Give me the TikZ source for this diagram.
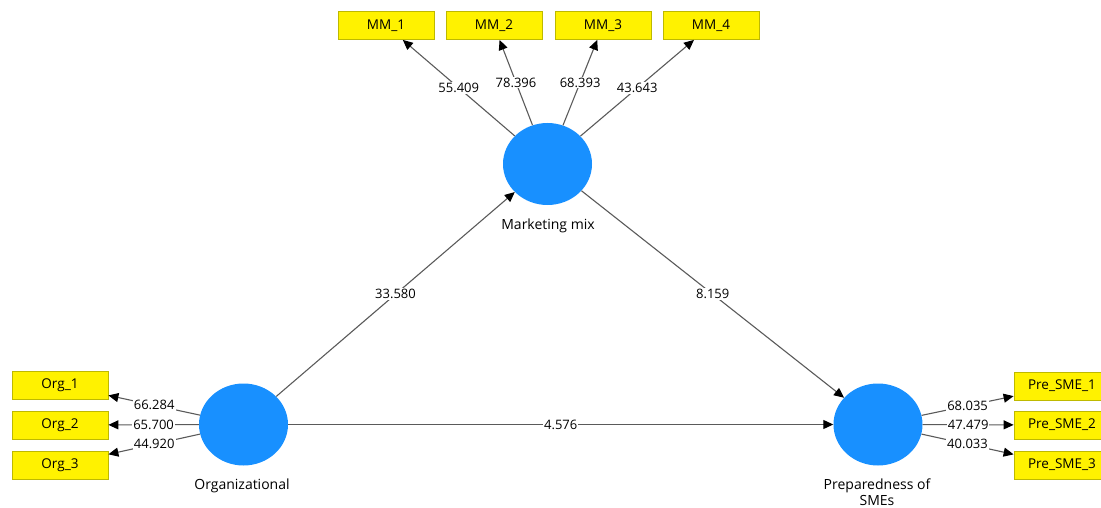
\documentclass[tikz,border=0pt]{standalone}
\usepackage{fontspec}
\setmainfont{Open Sans}
\usetikzlibrary{arrows.meta,shapes.geometric}
\definecolor{lvblue}{RGB}{24,144,255}
\definecolor{ybord}{RGB}{190,185,0}
\definecolor{lgray}{RGB}{90,90,90}
\begin{document}
\begin{tikzpicture}[x=1pt,y=-1pt,
  lv/.style={ellipse, fill=lvblue, minimum width=89pt, minimum height=82pt, inner sep=0pt},
  ind/.style={rectangle, fill=yellow, draw=ybord, line width=0.8pt, minimum width=96pt, minimum height=28pt, inner sep=0pt, font=\fontsize{13.5}{15}\selectfont},
  conn/.style={draw=lgray, line width=1.1pt, -{Triangle[length=10pt,width=9pt,color=black]}},
  lab/.style={fill=white, inner sep=1pt, font=\fontsize{13}{15}\selectfont},
  lvname/.style={font=\fontsize{14}{16}\selectfont, align=center, inner sep=1pt}
]
\useasboundingbox (0,0) rectangle (1101,508);
% latent variables
\node[lv] (mm) at (547.5,164) {};
\node[lv] (org) at (243.5,424.5) {};
\node[lv] (pre) at (878,424.5) {};
\node[lvname] (mmname) at (548,226) {Marketing mix};
\node[lvname] (orgname) at (242,486) {Organizational};
\node[lvname] (prename) at (877,492) {Preparedness of\\SMEs};
% indicators
\node[ind] (m1) at (386,25.5) {MM\_1};
\node[ind] (m2) at (494,25.5) {MM\_2};
\node[ind] (m3) at (603,25.5) {MM\_3};
\node[ind] (m4) at (711,25.5) {MM\_4};
\node[ind] (o1) at (60,385) {Org\_1};
\node[ind] (o2) at (60,425) {Org\_2};
\node[ind] (o3) at (60,465) {Org\_3};
\node[ind] (p1) at (1062,386) {Pre\_SME\_1};
\node[ind] (p2) at (1062,425) {Pre\_SME\_2};
\node[ind] (p3) at (1062,465) {Pre\_SME\_3};
% outer loadings
\draw[conn] (mm) -- node[lab,pos=0.5] {55.409} (m1);
\draw[conn] (mm) -- node[lab,pos=0.5] {78.396} (m2);
\draw[conn] (mm) -- node[lab,pos=0.5] {68.393} (m3);
\draw[conn] (mm) -- node[lab,pos=0.5] {43.643} (m4);
\draw[conn] (org) -- node[lab,pos=0.5] {66.284} (o1);
\draw[conn] (org) -- node[lab,pos=0.5] {65.700} (o2);
\draw[conn] (org) -- node[lab,pos=0.5] {44.920} (o3);
\draw[conn] (pre) -- node[lab,pos=0.5] {68.035} (p1);
\draw[conn] (pre) -- node[lab,pos=0.5] {47.479} (p2);
\draw[conn] (pre) -- node[lab,pos=0.5] {40.033} (p3);
% structural paths
\draw[conn] (org) -- node[lab,pos=0.5] {33.580} (mm);
\draw[conn] (mm) -- node[lab,pos=0.5] {8.159} (pre);
\draw[conn] (org) -- node[lab,pos=0.5] {4.576} (pre);
\end{tikzpicture}
\end{document}
